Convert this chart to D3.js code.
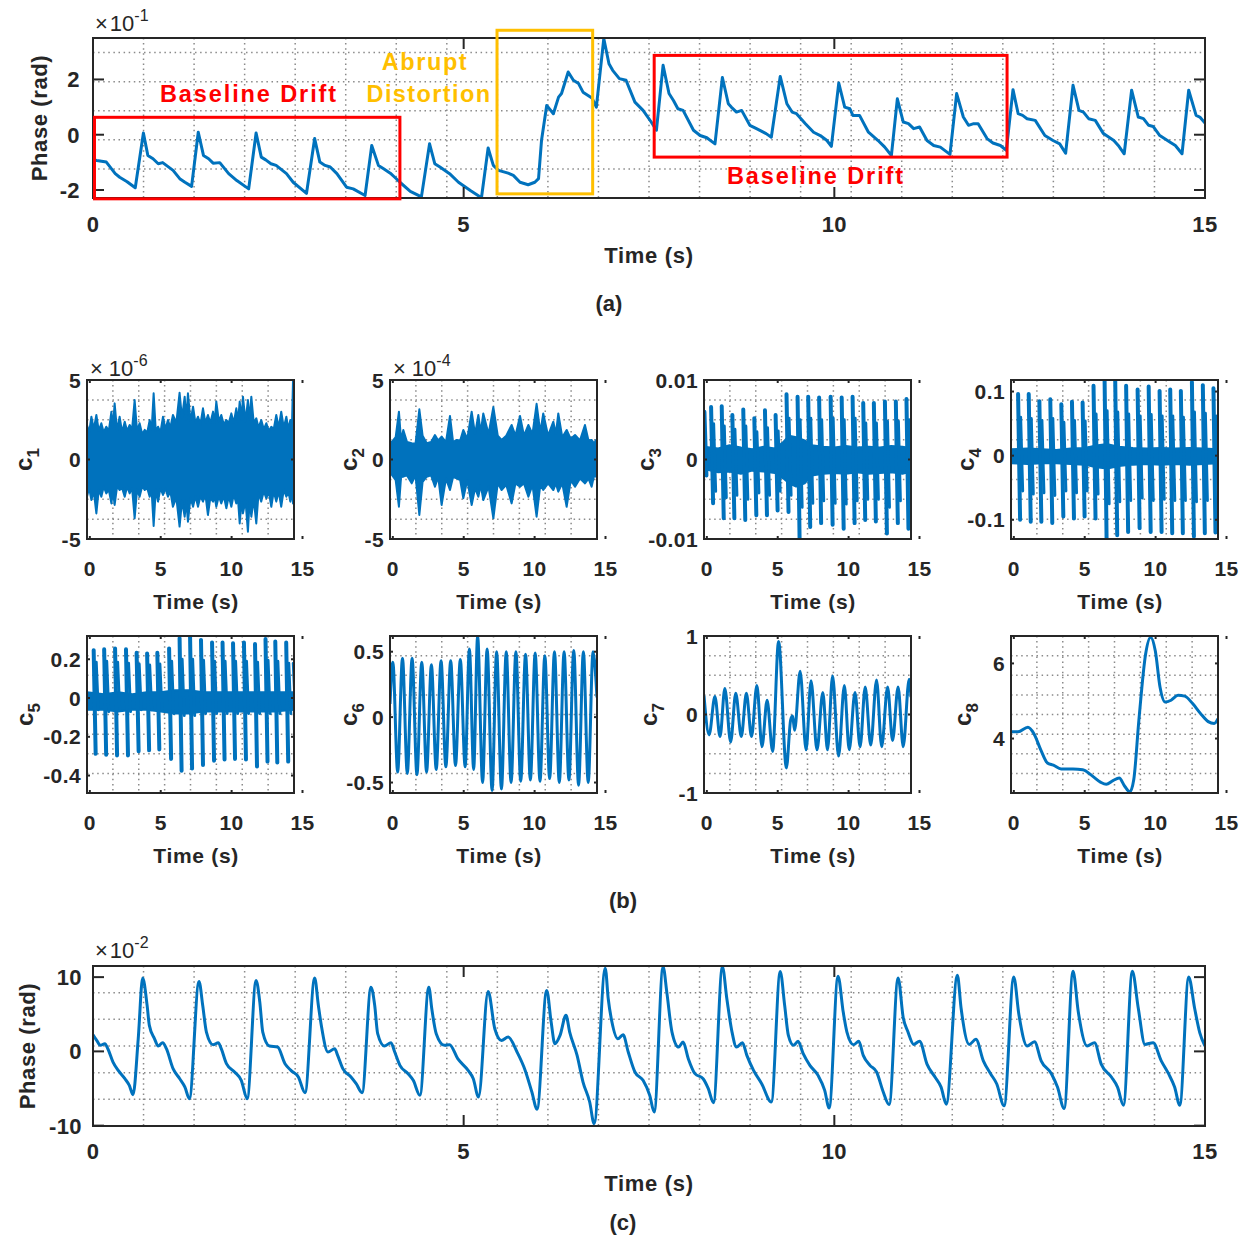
<!DOCTYPE html>
<html>
<head>
<meta charset="utf-8">
<script src="https://cdn.jsdelivr.net/npm/d3@7"></script>
<style>
body { margin: 0; background: #fff; }
svg text { font-family: "Liberation Sans", Arial, Helvetica, sans-serif; fill: #262626; }
</style>
</head>
<body>
<svg id="fig" width="1246" height="1248"></svg>
<script>
// ---------- data ----------
var timeTicks = [0, 5, 10, 15];

// (a) raw phase, units of 1e-1 rad
var phaseA = [[0,-0.9],[0.05,-0.93],[0.18,-0.99],[0.30,-1.41],[0.36,-1.54],[0.46,-1.70],[0.57,-1.92],
 [0.68,0.06],[0.74,-0.75],[0.81,-0.87],[0.88,-1.05],[0.94,-1.01],[1.08,-1.29],[1.17,-1.59],[1.24,-1.72],[1.33,-1.87],
 [1.42,0.09],[1.49,-0.75],[1.56,-0.87],[1.62,-1.03],[1.71,-1.01],[1.83,-1.41],[1.94,-1.66],[2.10,-1.96],
 [2.20,0.06],[2.27,-0.81],[2.33,-0.91],[2.40,-1.05],[2.47,-1.11],[2.61,-1.41],[2.70,-1.72],[2.88,-2.12],
 [2.99,-0.14],[3.06,-0.99],[3.13,-1.11],[3.20,-1.17],[3.29,-1.41],[3.42,-1.90],[3.51,-1.96],[3.67,-2.20],
 [3.76,-0.39],[3.85,-1.11],[3.92,-1.23],[4.01,-1.39],[4.07,-1.54],[4.14,-1.72],[4.28,-2.05],[4.43,-2.25],
 [4.54,-0.33],[4.61,-1.05],[4.68,-1.17],[4.81,-1.41],[4.93,-1.72],[5.09,-2.02],[5.24,-2.28],
 [5.33,-0.48],[5.40,-1.11],[5.47,-1.29],[5.60,-1.39],[5.67,-1.47],[5.76,-1.72],[5.87,-1.81],[5.96,-1.72],[6.01,-1.59],
 [6.05,-0.21],[6.12,1.06],[6.21,0.76],[6.28,1.36],[6.32,1.49],[6.41,2.27],[6.48,1.97],[6.55,1.85],[6.61,1.54],[6.73,1.33],[6.79,1.0],
 [6.89,3.48],[6.96,2.57],[7.01,2.33],[7.10,2.03],[7.19,1.97],[7.31,1.18],[7.42,0.88],[7.53,0.46],[7.60,0.16],
 [7.69,2.51],[7.77,1.49],[7.83,1.24],[7.89,0.94],[7.96,0.88],[8.10,0.16],[8.19,-0.03],[8.28,-0.11],[8.39,-0.33],
 [8.49,2.07],[8.57,1.12],[8.61,1.0],[8.68,0.82],[8.75,0.88],[8.86,0.34],[8.95,0.22],[9.08,0.04],[9.15,-0.09],
 [9.27,2.11],[9.36,1.12],[9.43,0.82],[9.49,0.76],[9.61,0.40],[9.72,0.09],[9.81,-0.03],[9.90,-0.21],[9.96,-0.42],
 [10.06,1.87],[10.14,1.0],[10.21,0.94],[10.25,0.70],[10.34,0.70],[10.46,0.09],[10.59,-0.21],[10.68,-0.45],[10.77,-0.75],
 [10.85,1.30],[10.93,0.46],[11.0,0.40],[11.07,0.22],[11.15,0.28],[11.25,-0.21],[11.34,-0.39],[11.43,-0.45],[11.56,-0.71],
 [11.65,1.49],[11.74,0.64],[11.81,0.34],[11.88,0.40],[11.94,0.40],[12.06,-0.14],[12.14,-0.30],[12.24,-0.39],[12.32,-0.57],
 [12.41,1.63],[12.48,0.76],[12.54,0.70],[12.60,0.58],[12.71,0.52],[12.84,-0.03],[12.95,-0.21],[13.04,-0.33],[13.12,-0.67],
 [13.22,1.79],[13.30,0.88],[13.36,0.82],[13.43,0.58],[13.52,0.52],[13.63,0.04],[13.77,-0.21],[13.83,-0.39],[13.91,-0.69],
 [14.01,1.61],[14.10,0.64],[14.17,0.58],[14.24,0.34],[14.30,0.30],[14.39,-0.03],[14.53,-0.27],[14.60,-0.39],[14.69,-0.69],
 [14.78,1.61],[14.88,0.70],[14.93,0.64],[15.0,0.42]];
var phaseATicks = [-2, 0, 2];
// annotated regions [t0, t1, v0, v1]
var driftRegions = [[0.02, 4.14, -2.32, 0.63], [7.57, 12.33, -0.81, 2.87]];
var distortionRegion = [5.45, 6.74, -2.14, 3.78];

// (c) reconstructed phase, units of 1e-2 rad
var phaseC = [[0,2.25],[0.05,1.48],[0.10,0.81],[0.16,1.03],[0.20,0.36],[0.27,-1.44],[0.34,-2.56],[0.43,-3.68],[0.49,-4.58],[0.54,-5.83],
 [0.61,1.70],[0.67,9.87],[0.73,6.19],[0.76,3.50],[0.83,1.70],[0.88,0.72],[0.94,1.17],[0.99,0.36],[1.08,-2.33],[1.17,-3.68],[1.24,-4.80],[1.30,-6.37],
 [1.43,9.42],[1.48,6.19],[1.53,2.60],[1.62,0.90],[1.69,1.17],[1.73,0.36],[1.80,-1.66],[1.91,-2.78],[2.00,-3.90],[2.08,-6.37],
 [2.20,9.56],[2.25,6.64],[2.29,2.60],[2.38,0.72],[2.49,0.58],[2.59,-1.66],[2.67,-2.56],[2.77,-3.45],[2.86,-5.56],
 [2.99,9.87],[3.04,6.19],[3.08,3.50],[3.17,-0.09],[3.26,0.36],[3.30,-0.54],[3.37,-2.33],[3.48,-3.45],[3.55,-4.35],[3.63,-5.56],
 [3.75,8.65],[3.80,6.19],[3.84,2.38],[3.93,0.72],[4.02,1.17],[4.07,-0.09],[4.14,-1.88],[4.25,-3.00],[4.32,-3.90],[4.41,-5.92],
 [4.53,8.65],[4.57,5.74],[4.63,2.38],[4.74,0.81],[4.81,0.90],[4.92,-0.98],[5.06,-2.56],[5.13,-3.68],[5.20,-6.15],
 [5.33,8.08],[5.42,3.05],[5.51,1.48],[5.60,1.93],[5.72,-0.09],[5.83,-2.56],[5.92,-5.47],[5.99,-7.80],
 [6.12,8.21],[6.18,3.95],[6.23,1.03],[6.30,2.15],[6.38,4.85],[6.43,2.60],[6.53,-0.54],[6.61,-4.13],[6.70,-6.82],[6.76,-9.73],
 [6.91,11.2],[6.95,7.09],[7.00,3.95],[7.08,1.70],[7.15,2.25],[7.22,-0.09],[7.31,-2.78],[7.42,-3.90],[7.51,-5.92],[7.57,-8.17],
 [7.69,11.4],[7.74,7.98],[7.81,2.60],[7.90,0.58],[7.96,1.25],[8.03,-0.98],[8.12,-3.00],[8.23,-3.68],[8.30,-5.02],[8.37,-6.91],
 [8.49,11.4],[8.55,7.09],[8.62,2.60],[8.68,0.58],[8.76,1.17],[8.82,-0.54],[8.91,-2.56],[9.02,-4.35],[9.15,-6.82],
 [9.27,10.77],[9.33,6.19],[9.38,2.15],[9.45,0.81],[9.51,1.35],[9.58,-0.31],[9.67,-1.88],[9.78,-3.23],[9.87,-5.25],[9.93,-7.63],
 [10.05,10.13],[10.12,5.29],[10.17,2.60],[10.26,0.90],[10.33,1.35],[10.39,-0.54],[10.48,-1.88],[10.57,-2.78],[10.66,-5.47],[10.74,-7.17],
 [10.86,9.9],[10.93,4.5],[10.99,2.72],[11.07,0.94],[11.15,1.38],[11.25,-1.71],[11.36,-3.49],[11.44,-4.81],[11.51,-7.11],
 [11.66,10.24],[11.71,5.81],[11.82,0.94],[11.91,1.62],[12.01,-1.27],[12.11,-3.04],[12.19,-4.36],[12.29,-7.33],
 [12.42,10.02],[12.49,4.93],[12.60,0.73],[12.70,1.31],[12.79,-1.27],[12.93,-3.04],[13.01,-4.81],[13.10,-7.69],
 [13.22,10.78],[13.29,5.37],[13.41,0.73],[13.51,1.17],[13.60,-1.71],[13.74,-3.49],[13.82,-4.81],[13.90,-7.24],
 [14.02,10.78],[14.10,5.81],[14.19,0.94],[14.30,1.17],[14.41,-1.27],[14.51,-3.04],[14.59,-4.81],[14.66,-7.24],
 [14.78,10.02],[14.86,5.81],[14.93,2.49],[15.0,0.73]];
var phaseCTicks = [-10, 0, 10];

// (b) IMFs. bands: [t, upper, lower]; spikes: [t, peak, trough]; waves: [t, value]
var c1Band = [[-0.2,2.17,-2.34],[-0.05,1.7,-1.8],[0.11,2.69,-2.55],[0.28,1.9,-2.0],[0.46,2.80,-3.39],[0.63,1.8,-1.9],
 [0.81,2.28,-2.34],[0.98,1.7,-1.7],[1.16,2.06,-2.13],[1.34,1.8,-1.9],[1.52,3.01,-2.76],[1.63,2.0,-2.0],[1.75,3.53,-2.86],
 [1.92,1.8,-1.7],[2.10,2.69,-1.92],[2.28,1.7,-1.8],[2.46,2.38,-2.34],[2.63,1.8,-1.7],[2.81,2.17,-2.13],[2.98,1.9,-1.8],
 [3.16,3.74,-3.70],[3.33,1.8,-1.9],[3.51,2.28,-2.34],[3.69,1.6,-1.7],[3.87,1.86,-1.92],[4.05,1.7,-1.8],[4.22,2.48,-2.34],
 [4.36,1.9,-2.0],[4.50,4.16,-4.18],[4.65,1.8,-1.9],[4.81,2.06,-2.65],[4.98,1.7,-1.8],[5.16,2.69,-2.23],[5.33,1.9,-1.8],
 [5.51,2.48,-2.34],[5.68,2.0,-2.0],[5.86,2.80,-2.97],[6.1,2.3,-2.4],[6.33,4.20,-4.22],[6.5,2.6,-2.6],[6.69,3.95,-3.60],
 [6.8,2.5,-2.6],[6.92,4.16,-3.91],[7.1,2.4,-2.4],[7.28,3.32,-2.97],[7.45,2.3,-2.3],[7.63,2.69,-2.97],[7.8,2.2,-2.3],
 [7.98,3.22,-2.65],[8.15,2.3,-2.2],[8.33,2.80,-3.49],[8.5,2.3,-2.4],[8.69,3.01,-2.65],[8.8,2.3,-2.3],[8.92,3.64,-2.97],
 [9.1,2.4,-2.3],[9.27,2.80,-2.76],[9.45,2.2,-2.3],[9.63,2.48,-3.07],[9.8,2.3,-2.3],[9.98,2.90,-2.97],[10.15,2.3,-2.2],
 [10.33,3.22,-2.76],[10.45,2.4,-2.5],[10.57,3.64,-4.02],[10.7,2.5,-2.6],[10.80,3.95,-3.39],[10.98,2.4,-2.6],[11.15,3.74,-4.54],
 [11.27,2.5,-2.6],[11.39,3.95,-3.60],[11.56,2.3,-2.5],[11.74,2.59,-4.02],[11.9,2.0,-2.1],[12.09,2.48,-2.65],[12.27,1.9,-2.0],
 [12.45,2.28,-2.44],[12.62,1.8,-2.0],[12.80,2.06,-2.97],[12.97,1.9,-2.0],[13.15,2.80,-2.65],[13.32,2.0,-2.0],[13.50,3.01,-2.97],
 [13.68,2.0,-1.9],[13.86,2.69,-2.34],[14.0,1.9,-2.0],[14.14,2.48,-2.65],[14.25,1.9,-2.0],[14.33,5.0,-2.76],[14.4,2.0,-2.0]];
var c2Band = [[-0.15,1.02,-0.87],[0.2,1.4,-1.3],[0.43,3.01,-2.97],[0.58,1.2,-1.1],[0.74,1.86,-1.08],[1.0,1.1,-1.0],
 [1.33,1.02,-1.50],[1.6,1.0,-1.0],[1.87,3.16,-3.49],[2.1,1.5,-1.4],[2.39,1.02,-1.08],[2.7,1.1,-1.0],[2.97,1.54,-1.71],
 [3.2,1.2,-1.1],[3.44,1.44,-2.86],[3.75,1.1,-1.2],[4.03,2.74,-1.92],[4.25,1.1,-1.1],[4.50,1.23,-1.18],[4.75,1.2,-1.3],
 [4.97,1.86,-2.44],[5.25,1.3,-1.3],[5.56,3.01,-2.86],[5.8,1.6,-1.8],[6.03,2.80,-2.34],[6.2,1.7,-1.6],[6.38,2.90,-2.55],
 [6.75,1.6,-1.7],[7.09,3.30,-3.70],[7.4,1.5,-1.5],[7.67,1.23,-1.92],[8.0,1.5,-1.6],[8.38,2.17,-2.76],[8.65,1.5,-1.5],
 [8.97,2.74,-1.71],[9.25,1.5,-1.5],[9.56,2.17,-2.34],[9.85,1.6,-1.6],[10.14,3.50,-3.60],[10.4,1.7,-1.6],[10.61,2.90,-1.92],
 [10.95,1.5,-1.5],[11.32,2.38,-1.92],[11.5,1.6,-1.5],[11.67,2.90,-2.02],[11.95,1.4,-1.5],[12.26,1.86,-2.97],[12.55,1.3,-1.3],
 [12.85,1.54,-1.71],[13.2,1.2,-1.2],[13.55,2.17,-1.50],[13.8,1.2,-1.2],[14.02,1.23,-1.71],[14.2,1.0,-1.0],[14.33,1.23,-1.08]];
var c3Band = [[-0.2,0.0016,-0.0012],[0.8,0.0014,-0.0016],[1.6,0.0018,-0.0015],[2.4,0.0015,-0.0018],[3.2,0.0013,-0.0014],
 [4.0,0.0016,-0.0015],[4.8,0.0014,-0.0017],[5.4,0.0022,-0.0024],[5.8,0.0030,-0.0030],[6.3,0.0028,-0.0034],[6.9,0.0024,-0.0030],
 [7.4,0.0018,-0.0020],[8.2,0.0016,-0.0018],[9.0,0.0015,-0.0017],[9.8,0.0017,-0.0018],[10.6,0.0015,-0.0016],[11.4,0.0016,-0.0018],
 [12.2,0.0015,-0.0017],[13.0,0.0017,-0.0016],[13.8,0.0016,-0.0018],[14.4,0.0014,-0.0015]];
var c3Spikes = [[-0.17,0.0060,-0.0020],[0.30,0.0066,-0.0055],[1.05,0.0067,-0.0074],[1.80,0.0056,-0.0074],[2.57,0.0063,-0.0076],
 [3.35,0.0052,-0.0070],[4.10,0.0062,-0.0070],[4.85,0.0056,-0.0064],[5.62,0.0082,-0.0066],[6.40,0.0079,-0.0099],[7.15,0.0079,-0.0085],
 [7.92,0.0078,-0.0080],[8.73,0.0079,-0.0082],[9.51,0.0078,-0.0087],[10.28,0.0079,-0.0080],[11.03,0.0071,-0.0076],[11.78,0.0071,-0.0078],
 [12.56,0.0073,-0.0093],[13.33,0.0073,-0.0080],[14.08,0.0076,-0.0087]];
var c3Minor = [[0.48,0.0045,-0.0040],[1.23,0.0042,-0.0048],[1.98,0.0038,-0.0045],[2.75,0.0042,-0.0050],[3.53,0.0035,-0.0042],
 [4.28,0.0040,-0.0045],[5.03,0.0036,-0.0040],[5.80,0.0052,-0.0045],[6.58,0.0050,-0.0060],[7.33,0.0052,-0.0055],[8.10,0.0050,-0.0052],
 [8.91,0.0052,-0.0055],[9.69,0.0050,-0.0056],[10.46,0.0052,-0.0052],[11.21,0.0046,-0.0050],[11.96,0.0046,-0.0050],[12.74,0.0048,-0.0060],
 [13.51,0.0048,-0.0052],[14.26,0.0050,-0.0055]];
var c4Band = [[-0.2,0.010,-0.012],[1.0,0.011,-0.013],[2.0,0.010,-0.012],[3.0,0.009,-0.012],[4.0,0.011,-0.013],[5.0,0.012,-0.014],
 [5.8,0.016,-0.018],[6.6,0.018,-0.020],[7.4,0.014,-0.016],[8.4,0.012,-0.014],[9.4,0.011,-0.013],[10.4,0.012,-0.014],[11.4,0.011,-0.013],
 [12.4,0.012,-0.014],[13.4,0.011,-0.013],[14.4,0.010,-0.012]];
var c4Spikes = [[0.30,0.096,-0.100],[1.05,0.096,-0.103],[1.80,0.085,-0.103],[2.57,0.088,-0.105],[3.35,0.080,-0.095],[4.10,0.084,-0.098],
 [4.85,0.083,-0.095],[5.62,0.109,-0.098],[6.40,0.120,-0.129],[7.15,0.118,-0.124],[7.92,0.109,-0.119],[8.73,0.103,-0.113],
 [9.51,0.108,-0.119],[10.28,0.101,-0.119],[11.03,0.103,-0.121],[11.78,0.101,-0.121],[12.56,0.115,-0.126],[13.33,0.110,-0.121],
 [14.08,0.105,-0.120]];
var c4Minor = [[0.48,0.060,-0.055],[1.23,0.058,-0.060],[1.98,0.055,-0.058],[2.75,0.058,-0.062],[3.53,0.052,-0.055],[4.28,0.055,-0.058],
 [5.03,0.054,-0.055],[5.80,0.065,-0.060],[6.58,0.070,-0.075],[7.33,0.068,-0.072],[8.10,0.065,-0.070],[8.91,0.062,-0.066],
 [9.69,0.064,-0.070],[10.46,0.062,-0.068],[11.21,0.062,-0.070],[11.96,0.060,-0.070],[12.74,0.068,-0.072],[13.51,0.066,-0.070],
 [14.26,0.062,-0.068]];
var c5Band = [[-0.2,0.03,-0.06],[1.0,0.02,-0.06],[2.0,0.03,-0.07],[3.0,0.02,-0.06],[4.0,0.03,-0.06],[5.0,0.03,-0.07],[6.0,0.04,-0.08],
 [7.0,0.04,-0.08],[8.0,0.03,-0.07],[9.0,0.03,-0.07],[10.0,0.03,-0.07],[11.0,0.03,-0.07],[12.0,0.03,-0.07],[13.0,0.03,-0.07],[14.4,0.03,-0.06]];
var c5Spikes = [[0.27,0.247,-0.288],[1.01,0.251,-0.293],[1.78,0.256,-0.296],[2.55,0.251,-0.296],[3.30,0.233,-0.275],[4.04,0.230,-0.270],
 [4.76,0.233,-0.265],[5.59,0.256,-0.314],[6.33,0.309,-0.375],[7.07,0.317,-0.363],[7.84,0.300,-0.346],[8.62,0.286,-0.323],
 [9.36,0.286,-0.317],[10.10,0.283,-0.314],[10.87,0.286,-0.317],[11.65,0.279,-0.353],[12.39,0.304,-0.328],[13.08,0.291,-0.332],
 [13.85,0.286,-0.328]];
var c5Minor = [[0.45,0.185,-0.06],[1.19,0.190,-0.07],[1.96,0.185,-0.06],[2.73,0.180,-0.07],[3.48,0.175,-0.06],[4.22,0.170,-0.06],
 [4.94,0.175,-0.06],[5.77,0.190,-0.08],[6.51,0.200,-0.09],[7.25,0.200,-0.09],[8.02,0.195,-0.08],[8.80,0.190,-0.08],[9.54,0.190,-0.08],
 [10.28,0.190,-0.08],[11.05,0.190,-0.08],[11.83,0.185,-0.08],[12.57,0.195,-0.08],[13.26,0.190,-0.08],[14.03,0.180,-0.08],[14.35,0.180,-0.05]];
var c6Wave = [[-0.2,0.10],[0.0,0.42],[0.34,-0.42],[0.68,0.45],[1.02,-0.43],[1.36,0.45],[1.70,-0.44],[2.04,0.42],[2.38,-0.42],
 [2.72,0.40],[3.06,-0.40],[3.40,0.43],[3.74,-0.38],[4.08,0.43],[4.42,-0.37],[4.76,0.44],[5.10,-0.38],[5.40,0.52],[5.70,-0.40],
 [5.98,0.62],[6.33,-0.50],[6.65,0.52],[7.00,-0.56],[7.32,0.50],[7.66,-0.55],[8.00,0.50],[8.34,-0.50],[8.68,0.50],[9.02,-0.49],
 [9.36,0.48],[9.70,-0.48],[10.04,0.49],[10.38,-0.49],[10.72,0.47],[11.06,-0.47],[11.40,0.50],[11.74,-0.50],[12.08,0.50],
 [12.42,-0.48],[12.76,0.51],[13.10,-0.52],[13.44,0.50],[13.78,-0.50],[14.12,0.50],[14.4,0.15]];
var c7Wave = [[-0.2,0.24],[0.16,-0.26],[0.57,0.23],[0.93,-0.28],[1.27,0.33],[1.68,-0.35],[2.04,0.27],[2.43,-0.28],[2.79,0.27],
 [3.15,-0.28],[3.53,0.37],[3.89,-0.41],[4.25,0.18],[4.64,-0.47],[5.06,0.93],[5.61,-0.68],[5.91,-0.07],[6.05,-0.02],[6.19,-0.20],
 [6.58,0.55],[7.0,-0.45],[7.35,0.43],[7.77,-0.45],[8.18,0.28],[8.51,-0.45],[8.87,0.49],[9.29,-0.53],[9.7,0.37],[10.04,-0.45],
 [10.45,0.28],[10.81,-0.41],[11.17,0.35],[11.56,-0.39],[11.97,0.44],[12.33,-0.41],[12.75,0.35],[13.1,-0.33],[13.49,0.35],
 [13.85,-0.41],[14.27,0.45],[14.4,0.22]];
var c8Trend = [[-0.2,4.18],[0.30,4.18],[0.99,4.30],[1.40,4.14],[1.90,3.70],[2.37,3.35],[2.79,3.29],[3.34,3.19],[4.17,3.19],[4.86,3.17],
 [5.55,3.0],[6.11,2.84],[6.52,2.78],[6.99,2.88],[7.43,2.95],[7.82,2.73],[8.18,2.58],[8.46,2.91],[8.82,4.49],[9.29,6.24],[9.65,6.70],
 [9.98,6.33],[10.31,5.37],[10.67,4.97],[11.09,5.02],[11.58,5.15],[12.05,5.13],[12.61,4.93],[13.16,4.67],[13.71,4.45],[14.13,4.40],[14.4,4.53]];

var imfYDomains = [[-5,5],[-5,5],[-0.01,0.01],[-0.13,0.118],[-0.49,0.32],[-0.58,0.62],[-1,1],[2.55,6.73]];
var imfYTicks = [[-5,0,5],[-5,0,5],[-0.01,0,0.01],[-0.1,0,0.1],[-0.4,-0.2,0,0.2],[-0.5,0,0.5],[-1,0,1],[4,6]];
var imfExponents = [-6, -4, null, null, null, null, null, null];

// ---------- drawing ----------
var INK = "#262626", BLUE = "#0072BD", GRIDC = "#8a8a8a";
var svg = d3.select("#fig");
var defs = svg.append("defs");
var clipId = 0;

function range(n) { var a = []; for (var i = 1; i < n; i++) a.push(i / n); return a; }

function panel(o) {
  var g = svg.append("g");
  var x = d3.scaleLinear().domain(o.xd).range([o.x0, o.x1]);
  var y = d3.scaleLinear().domain(o.yd).range([o.y1, o.y0]);
  var w = o.x1 - o.x0, h = o.y1 - o.y0;
  var grid = g.append("g").attr("stroke", GRIDC).attr("stroke-width", 1.5).attr("stroke-dasharray", "1.5,3.6");
  grid.selectAll(".gv").data(o.gv).join("line")
    .attr("x1", function(f) { return o.x0 + f * w; }).attr("x2", function(f) { return o.x0 + f * w; })
    .attr("y1", o.y0).attr("y2", o.y1);
  grid.selectAll(".gh").data(o.gh).join("line")
    .attr("y1", function(f) { return o.y0 + f * h; }).attr("y2", function(f) { return o.y0 + f * h; })
    .attr("x1", o.x0).attr("x2", o.x1);
  var id = "clip" + (clipId++);
  defs.append("clipPath").attr("id", id).append("rect")
    .attr("x", o.x0).attr("y", o.y0 - 1).attr("width", w).attr("height", h + 2);
  var data = g.append("g").attr("clip-path", "url(#" + id + ")");
  var ax = g.append("g");
  ax.append("rect").attr("x", o.x0).attr("y", o.y0).attr("width", w).attr("height", h)
    .attr("fill", "none").attr("stroke", INK).attr("stroke-width", 2);
  var tl = o.tickLen;
  o.xTicks.forEach(function(t) {
    ax.append("line").attr("x1", x(t)).attr("x2", x(t)).attr("y1", o.y1).attr("y2", o.y1 - tl).attr("stroke", INK).attr("stroke-width", 2);
    ax.append("line").attr("x1", x(t)).attr("x2", x(t)).attr("y1", o.y0).attr("y2", o.y0 + tl).attr("stroke", INK).attr("stroke-width", 2);
    ax.append("text").attr("x", x(t)).attr("y", o.y1 + o.xLabOff).attr("text-anchor", "middle")
      .attr("font-size", o.fs).attr("font-weight", "bold").attr("letter-spacing", 0.4).text(String(t));
  });
  o.yTicks.forEach(function(v) {
    ax.append("line").attr("x1", o.x0).attr("x2", o.x0 + tl).attr("y1", y(v)).attr("y2", y(v)).attr("stroke", INK).attr("stroke-width", 2);
    ax.append("line").attr("x1", o.x1).attr("x2", o.x1 - tl).attr("y1", y(v)).attr("y2", y(v)).attr("stroke", INK).attr("stroke-width", 2);
    ax.append("text").attr("x", o.x0 - o.yLabGap).attr("y", y(v) + o.fs * 0.36).attr("text-anchor", "end")
      .attr("font-size", o.fs).attr("font-weight", "bold").attr("letter-spacing", 0.4).text(String(v));
  });
  ax.append("text").attr("x", (x(0) + x(15)) / 2).attr("y", o.y1 + o.timeOff).attr("text-anchor", "middle")
    .attr("font-size", o.fs).attr("font-weight", "bold").attr("letter-spacing", 0.7).text("Time (s)");
  return { g: g, data: data, ax: ax, x: x, y: y };
}

function exponent(g, x0, base, exp, spaced) {
  var t = g.append("text").attr("x", x0).attr("y", base).attr("font-size", 22);
  t.append("tspan").text("\u00d7");
  t.append("tspan").attr("dx", spaced ? 6 : 2).text("10");
  t.append("tspan").attr("font-size", 16).attr("dy", -10).text(String(exp));
}

function rotLabel(g, x, y, size, parts) {
  var t = g.append("text").attr("transform", "translate(" + x + "," + y + ") rotate(-90)")
    .attr("text-anchor", "middle").attr("font-size", size).attr("font-weight", "bold");
  parts(t);
}

var lineXY = function(p) {
  return d3.line().x(function(d) { return p.x(d[0]); }).y(function(d) { return p.y(d[1]); });
};

// ----- panel (a)
var pa = panel({ x0: 93, x1: 1205, y0: 38, y1: 198, xd: [0, 15], yd: [-2.29, 3.5],
  gv: range(22), gh: [1/11, 3/11, 5/11, 7/11, 9/11], xTicks: timeTicks, yTicks: phaseATicks,
  tickLen: 11, fs: 22, xLabOff: 34, yLabGap: 13, timeOff: 65 });
pa.data.append("path").datum(phaseA).attr("d", lineXY(pa))
  .attr("fill", "none").attr("stroke", BLUE).attr("stroke-width", 3).attr("stroke-linejoin", "round");
exponent(pa.ax, 95, 31, -1, false);
rotLabel(pa.ax, 47, 118, 22, function(t) { t.attr("letter-spacing", 0.6).text("Phase (rad)"); });
pa.ax.append("text").attr("x", 609).attr("y", 311).attr("text-anchor", "middle")
  .attr("font-size", 22).attr("font-weight", "bold").text("(a)");

var ann = svg.append("g").attr("fill", "none").attr("stroke-width", 3);
driftRegions.forEach(function(r) {
  ann.append("rect").attr("x", pa.x(r[0])).attr("y", pa.y(r[3]))
    .attr("width", pa.x(r[1]) - pa.x(r[0])).attr("height", pa.y(r[2]) - pa.y(r[3])).attr("stroke", "#FF0000");
});
ann.append("rect").attr("x", pa.x(distortionRegion[0])).attr("y", pa.y(distortionRegion[3]))
  .attr("width", pa.x(distortionRegion[1]) - pa.x(distortionRegion[0]))
  .attr("height", pa.y(distortionRegion[2]) - pa.y(distortionRegion[3])).attr("stroke", "#FFBF00");
function annText(x, y, s, c, ls) {
  svg.append("text").attr("x", x).attr("y", y).attr("text-anchor", "middle").attr("font-size", 23.5)
    .attr("font-weight", "bold").attr("letter-spacing", ls).style("fill", c).text(s);
}
annText(249, 102, "Baseline Drift", "#FF0000", 1.9);
annText(816, 184, "Baseline Drift", "#FF0000", 1.9);
annText(425, 70, "Abrupt", "#FFBF00", 1.6);
annText(429, 102, "Distortion", "#FFBF00", 1.4);

// ----- panel (b): eight IMFs
var colX = [87, 390, 704, 1011], rowY = [[380, 539], [636, 793]];
var labelX = [32, 357, 654, 974, 33, 357, 657, 971];
var imfs = [];
for (var k = 0; k < 8; k++) {
  var cx = colX[k % 4], ry = rowY[Math.floor(k / 4)];
  var p = panel({ x0: cx, x1: cx + 207, y0: ry[0], y1: ry[1], xd: [-0.2, 14.4], yd: imfYDomains[k],
    gv: range(8), gh: range(8), xTicks: timeTicks, yTicks: imfYTicks[k],
    tickLen: 3, fs: 21, xLabOff: 37, yLabGap: 6, timeOff: 70 });
  (function(k) {
    rotLabel(p.ax, labelX[k], (ry[0] + ry[1]) / 2, 24, function(t) {
      t.append("tspan").text("c");
      t.append("tspan").attr("font-size", 17).attr("dy", 7).text(String(k + 1));
    });
  })(k);
  if (imfExponents[k] !== null) exponent(p.ax, cx + 3, ry[0] - 4, imfExponents[k], true);
  imfs.push(p);
}

function band(p, arr) {
  p.data.append("path").datum(arr)
    .attr("d", d3.area().x(function(d) { return p.x(d[0]); })
      .y0(function(d) { return p.y(d[2]); }).y1(function(d) { return p.y(d[1]); }))
    .attr("fill", BLUE).attr("stroke", BLUE).attr("stroke-width", 2).attr("stroke-linejoin", "round");
}
function spikes(p, arr, w) {
  p.data.selectAll(null).data(arr).join("line")
    .attr("x1", function(d) { return p.x(d[0]); }).attr("x2", function(d) { return p.x(d[0]) + 2; })
    .attr("y1", function(d) { return p.y(d[1]); }).attr("y2", function(d) { return p.y(d[2]); })
    .attr("stroke", BLUE).attr("stroke-width", w).attr("stroke-linecap", "round");
}
function wave(p, arr) {
  p.data.append("path").datum(arr)
    .attr("d", lineXY(p).curve(d3.curveMonotoneX))
    .attr("fill", "none").attr("stroke", BLUE).attr("stroke-width", 3);
}
band(imfs[0], c1Band);
band(imfs[1], c2Band);
band(imfs[2], c3Band); spikes(imfs[2], c3Spikes, 4); spikes(imfs[2], c3Minor, 3);
band(imfs[3], c4Band); spikes(imfs[3], c4Spikes, 4); spikes(imfs[3], c4Minor, 3);
band(imfs[4], c5Band); spikes(imfs[4], c5Spikes, 4); spikes(imfs[4], c5Minor, 3);
wave(imfs[5], c6Wave);
wave(imfs[6], c7Wave);
wave(imfs[7], c8Trend);
svg.append("text").attr("x", 623).attr("y", 908).attr("text-anchor", "middle")
  .attr("font-size", 22).attr("font-weight", "bold").text("(b)");

// ----- panel (c)
var pc = panel({ x0: 93, x1: 1205, y0: 966, y1: 1126, xd: [0, 15], yd: [-10.05, 11.5],
  gv: range(22), gh: range(6), xTicks: timeTicks, yTicks: phaseCTicks,
  tickLen: 11, fs: 22, xLabOff: 33, yLabGap: 11, timeOff: 65 });
pc.data.append("path").datum(phaseC).attr("d", lineXY(pc).curve(d3.curveMonotoneX))
  .attr("fill", "none").attr("stroke", BLUE).attr("stroke-width", 3).attr("stroke-linejoin", "round");
exponent(pc.ax, 95, 958, -2, false);
rotLabel(pc.ax, 35, 1046, 22, function(t) { t.attr("letter-spacing", 0.6).text("Phase (rad)"); });
pc.ax.append("text").attr("x", 623).attr("y", 1230).attr("text-anchor", "middle")
  .attr("font-size", 22).attr("font-weight", "bold").text("(c)");
</script>
</body>
</html>
